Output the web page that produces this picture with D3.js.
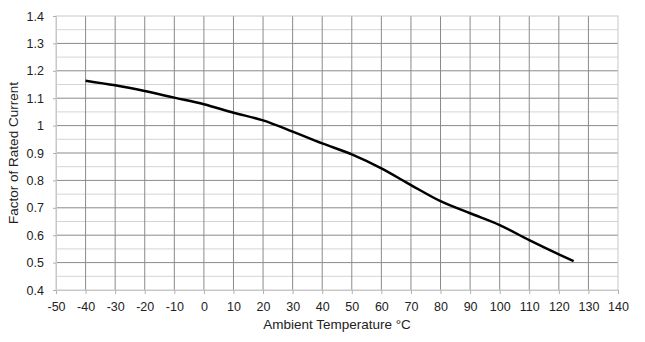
<!DOCTYPE html>
<html><head><meta charset="utf-8">
<script src="https://cdn.jsdelivr.net/npm/d3@7"></script>
<style>body{margin:0;background:#fff}svg{display:block}text{font-family:"Liberation Sans",Arial,sans-serif;fill:#222}</style>
</head><body><svg id="c" width="645" height="342"></svg>
<script>
const temps = [-40,-30,-20,-10,0,10,20,30,40,50,60,70,80,90,100,110,120,125];
const factors = [1.164,1.147,1.126,1.102,1.078,1.047,1.019,0.978,0.935,0.895,0.844,0.783,0.724,0.680,0.637,0.582,0.530,0.505];
const xTicks = d3.range(-50,141,10);
const yTicks = [0.4,0.5,0.6,0.7,0.8,0.9,1,1.1,1.2,1.3,1.4];
const yMinor = d3.range(0.45,1.4,0.1);
const xTitle = "Ambient Temperature °C";
const yTitle = "Factor of Rated Current";

const svg = d3.select("#c");
const L=56,R=618,T=16,B=290;
const x = d3.scaleLinear().domain([-50,140]).range([L,R]);
const y = d3.scaleLinear().domain([0.4,1.4]).range([B,T]);

svg.append("g").selectAll("line").data(yMinor).join("line")
  .attr("x1",L).attr("x2",R).attr("y1",d=>y(d)).attr("y2",d=>y(d))
  .attr("stroke","#d4d4d4").attr("stroke-width",1);
svg.append("g").selectAll("line").data(yTicks.slice(1,-1)).join("line")
  .attr("x1",L).attr("x2",R).attr("y1",d=>y(d)).attr("y2",d=>y(d))
  .attr("stroke","#8a8a8a").attr("stroke-width",1);
svg.append("g").selectAll("line").data(xTicks.slice(1,-1)).join("line")
  .attr("x1",d=>x(d)).attr("x2",d=>x(d)).attr("y1",T).attr("y2",B)
  .attr("stroke","#8a8a8a").attr("stroke-width",1);
svg.append("rect").attr("x",L).attr("y",T).attr("width",R-L).attr("height",B-T)
  .attr("fill","none").attr("stroke","#c8c8c8");

const xa = svg.append("g").attr("transform",`translate(0,${B})`)
  .call(d3.axisBottom(x).tickValues(xTicks).tickSize(4).tickPadding(8).tickFormat(d=>String(d)));
const ya = svg.append("g").attr("transform",`translate(${L},0)`)
  .call(d3.axisLeft(y).tickValues(yTicks).tickSize(3).tickPadding(9).tickFormat(d=>String(+d.toFixed(1))));
[xa,ya].forEach(g=>{
  g.select(".domain").attr("stroke","#c8c8c8");
  g.selectAll(".tick line").attr("stroke","#b0b0b0");
  g.selectAll("text").attr("font-size",12.5).attr("fill","#222").attr("font-family","Liberation Sans, Arial, sans-serif");
});

svg.append("path").datum(temps.map((t,i)=>[t,factors[i]]))
  .attr("fill","none").attr("stroke","#000").attr("stroke-width",2.5)
  .attr("d",d3.line().x(d=>x(d[0])).y(d=>y(d[1])).curve(d3.curveMonotoneX));

svg.append("text").attr("x",337).attr("y",329).attr("text-anchor","middle")
  .attr("font-size",13.5).text(xTitle);
svg.append("text").attr("transform","translate(18,153) rotate(-90)").attr("text-anchor","middle")
  .attr("font-size",13.5).text(yTitle);
</script></body></html>
